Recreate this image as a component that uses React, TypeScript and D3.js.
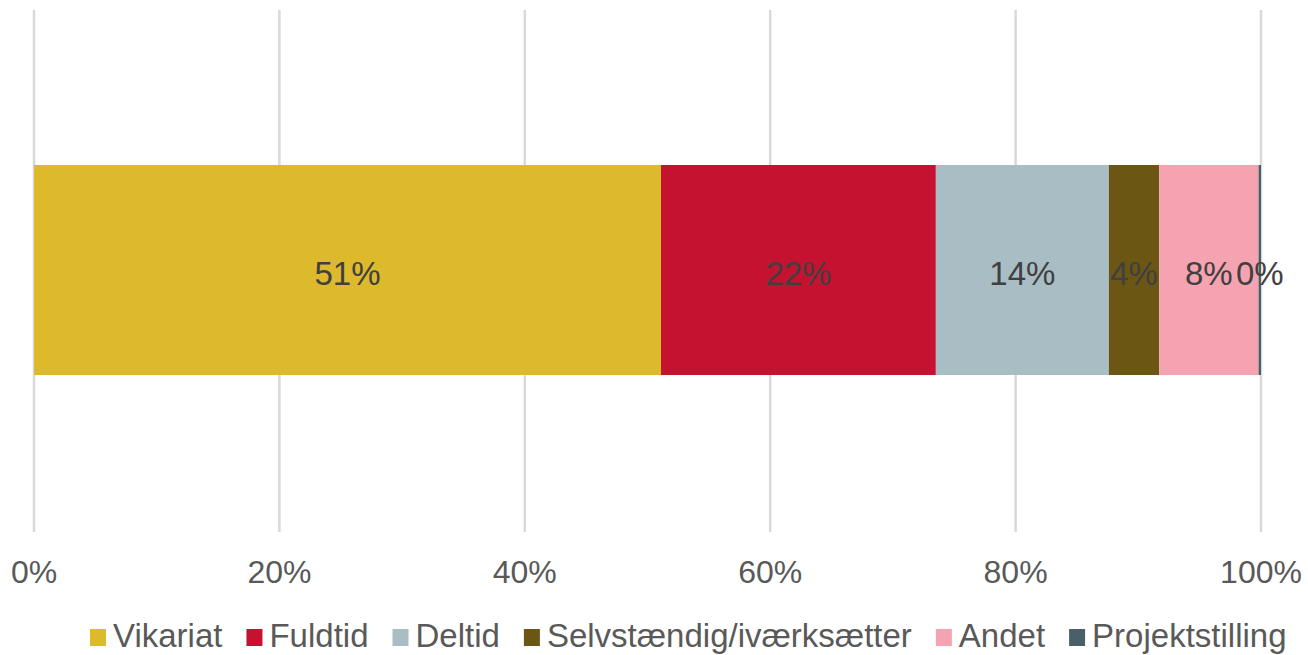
import React, { useEffect, useRef } from "react";
import * as d3 from "d3";

const categories = ["Vikariat", "Fuldtid", "Deltid", "Selvstændig/iværksætter", "Andet", "Projektstilling"];
const values = [51.1, 22.4, 14.1, 4.1, 8.1, 0.2];
const colors = ["#DDB92C", "#C41230", "#A9BDC5", "#6B5614", "#F5A3B0", "#4A6068"];
const ticks = [0, 20, 40, 60, 80, 100];

const W = 1308, H = 655;
const FONT = "Liberation Sans, Arial, sans-serif";

export default function App() {
  const ref = useRef<SVGSVGElement>(null);
  useEffect(() => {
    const svg = d3.select(ref.current);
    svg.selectAll("*").remove();
    const x = d3.scaleLinear().domain([0, 100]).range([34, 1261]);
    const gTop = 10, gBottom = 532, barTop = 165, barBottom = 375;

    svg.append("g").selectAll("line").data(ticks).join("line")
      .attr("x1", d => x(d)).attr("x2", d => x(d))
      .attr("y1", gTop).attr("y2", gBottom)
      .attr("stroke", "#D9D9D9").attr("stroke-width", 2.5);

    let cum = 0;
    const segs = values.map((v, i) => { const s = { i, v, x0: cum, x1: cum + v }; cum += v; return s; });

    svg.append("g").selectAll("rect").data(segs).join("rect")
      .attr("x", d => x(d.x0)).attr("width", d => Math.max(2, x(d.x1) - x(d.x0)))
      .attr("y", barTop).attr("height", barBottom - barTop)
      .attr("fill", d => colors[d.i]);

    svg.append("g").selectAll("text").data(segs).join("text")
      .attr("x", d => x((d.x0 + d.x1) / 2)).attr("y", 285)
      .attr("text-anchor", "middle").attr("font-family", FONT).attr("font-size", 33)
      .attr("fill", "#404040").text(d => `${Math.round(d.v)}%`);

    svg.append("g").selectAll("text").data(ticks).join("text")
      .attr("x", d => x(d)).attr("y", 583)
      .attr("text-anchor", "middle").attr("font-family", FONT).attr("font-size", 32)
      .attr("fill", "#595959").text(d => `${d}%`);

    const lg = svg.append("g");
    let lx = 90;
    categories.forEach((c, i) => {
      lg.append("rect").attr("x", lx).attr("y", 629).attr("width", 16).attr("height", 17).attr("fill", colors[i]);
      const t = lg.append("text").attr("x", lx + 23).attr("y", 647)
        .attr("font-family", FONT).attr("font-size", 33).attr("fill", "#595959").text(c);
      const w = (t.node() as SVGTextElement).getComputedTextLength();
      lx += 23 + w + 24;
    });
  }, []);
  return (
    <svg ref={ref} width={W} height={H} style={{ position: "absolute", left: 0, top: 0, background: "#fff" }} />
  );
}
